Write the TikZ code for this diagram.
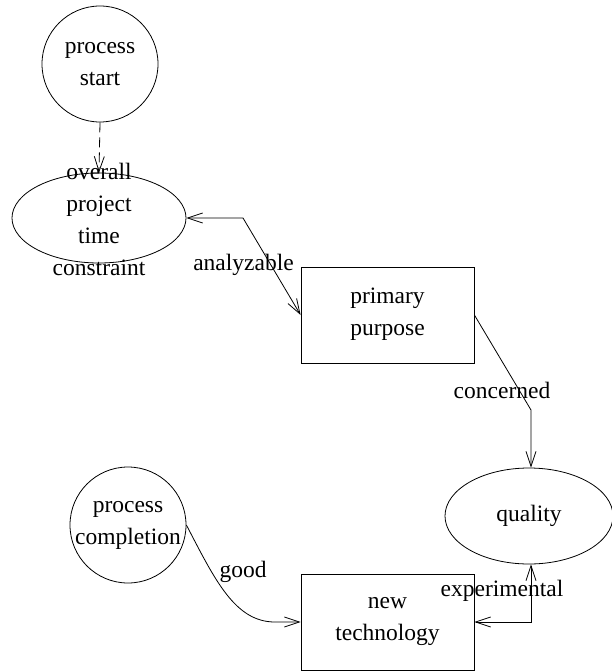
\documentclass[tikz,border=0pt]{standalone}
\usepackage{fontspec}
\setmainfont{Liberation Serif}
\usetikzlibrary{shapes.geometric,arrows.meta}
\tikzset{
  lnk/.style={line width=0.8pt,-{Straight Barb[length=15pt,width=10pt,line width=0.8pt]}},
  dlnk/.style={line width=0.8pt,{Straight Barb[length=15pt,width=10pt,line width=0.8pt]}-{Straight Barb[length=15pt,width=10pt,line width=0.8pt]}},
  shp/.style={draw,line width=0.8pt,inner sep=0pt},
  txt/.style={align=center,font=\fontsize{23.5}{32}\selectfont,inner sep=0pt},
  elab/.style={font=\fontsize{23.5}{32}\selectfont,inner sep=0pt}
}
\begin{document}
\begin{tikzpicture}[x=1pt,y=-1pt]
\useasboundingbox (0,0) rectangle (611,671);
% nodes
\node[shp,circle,minimum size=116pt] (ps) at (100,64) {};
\node[txt] (pst) at (100,64) {process\\start};
\node[shp,ellipse,minimum width=174pt,minimum height=90pt] (ov) at (99,218) {};
\node[txt] (ovt) at (99,219) {overall\\project\\time\\constraint};
\node[shp,rectangle,minimum width=173pt,minimum height=96pt] (pp) at (387.5,315) {};
\node[txt] (ppt) at (387.5,314) {primary\\purpose};
\node[shp,ellipse,minimum width=168pt,minimum height=96pt] (q) at (529,516) {};
\node[txt] (qt) at (529,516) {quality};
\node[shp,circle,minimum size=116pt] (pc) at (128,525) {};
\node[txt] (pct) at (128,525) {process\\completion};
\node[shp,rectangle,minimum width=173pt,minimum height=96pt] (nt) at (387.5,622) {};
\node[txt] (ntt) at (387.5,621) {new\\technology};
% corner coordinates
\coordinate (a1) at (243,218);
\coordinate (c1) at (531,410);
\coordinate (e1) at (531,622);
% edges
\draw[lnk,dash pattern=on 10pt off 5pt] (ps.south) -- (ov.north);
\draw[dlnk] (ov.east) -- (a1) -- (pp.west);
\draw[lnk] (pp.east) -- (c1) -- (c1 |- q.north);
\draw[dlnk] (e1 |- q.south) -- (e1) -- (nt.east);
\draw[lnk] (pc.east) .. controls (215,580) and (235,622) .. (275,622) -- (nt.west);
% labels
\node[elab] (la) at (243.5,265) {analyzable};
\node[elab] (lc) at (502,390) {concerned};
\node[elab] (le) at (502,591) {experimental};
\node[elab] (lg) at (243,572) {good};
\end{tikzpicture}
\end{document}
